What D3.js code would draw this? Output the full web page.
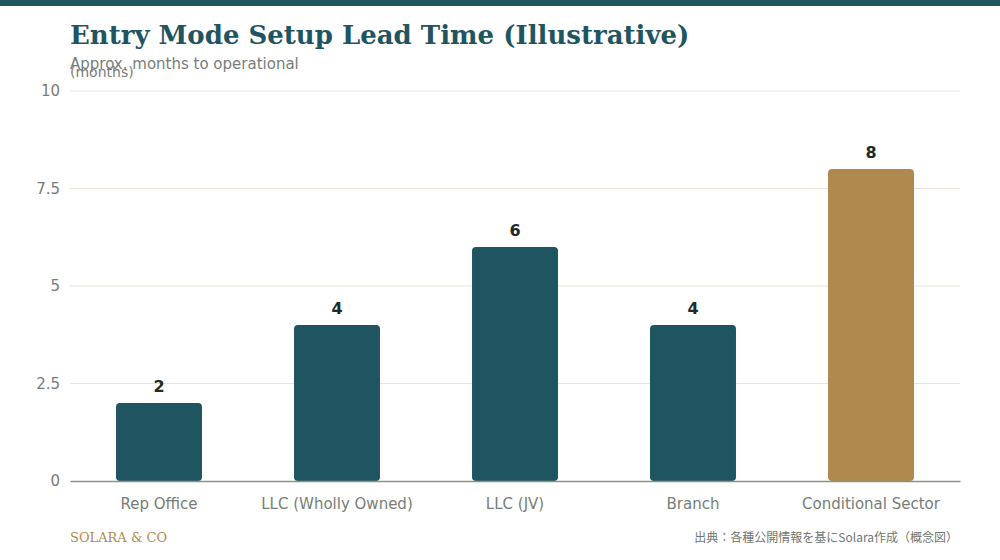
<!DOCTYPE html>
<html>
<head>
<meta charset="utf-8">
<script src="https://cdn.jsdelivr.net/npm/d3@7"></script>
<style>
  html, body { margin: 0; padding: 0; background: #fff; }
  svg { display: block; }
</style>
</head>
<body>
<div id="chart"></div>
<script>
// Chart data
const categories = ["Rep Office", "LLC (Wholly Owned)", "LLC (JV)", "Branch", "Conditional Sector"];
const months = [2, 4, 6, 4, 8];
const highlighted = ["Conditional Sector"];
const yTicks = [0, 2.5, 5, 7.5, 10];

const width = 1000, height = 560;
const margins = { top: 91, right: 40, bottom: 79, left: 70 };
const sans = "'DejaVu Sans', sans-serif";

const svg = d3.select("#chart").append("svg")
    .attr("width", width)
    .attr("height", height);

// top band
svg.append("rect")
    .attr("x", 0).attr("y", 0)
    .attr("width", width).attr("height", 6)
    .attr("fill", "#1f5461");

// Titles
svg.append("text")
    .attr("x", 70).attr("y", 44)
    .attr("font-family", "'DejaVu Serif', serif")
    .attr("font-weight", "bold")
    .attr("font-size", 26)
    .attr("fill", "#1f5461")
    .text("Entry Mode Setup Lead Time (Illustrative)");

svg.append("text")
    .attr("x", 70).attr("y", 69)
    .attr("font-family", sans)
    .attr("font-size", 15)
    .attr("fill", "#777d78")
    .text("Approx. months to operational");

// y axis title (sits just under the subtitle, as in the original)
svg.append("text")
    .attr("x", 70).attr("y", 77)
    .attr("font-family", sans)
    .attr("font-size", 14)
    .attr("fill", "#777d78")
    .text("(months)");

const x = d3.scaleBand()
    .domain(categories)
    .range([margins.left, width - margins.right])
    .paddingInner(0.517)
    .paddingOuter(0.2585);

const y = d3.scaleLinear()
    .domain([0, 10])
    .range([height - margins.bottom, margins.top]);

// Gridlines
svg.append("g")
    .selectAll("line")
    .data(yTicks.filter(d => d > 0))
    .join("line")
    .attr("x1", margins.left)
    .attr("x2", width - margins.right)
    .attr("y1", d => y(d))
    .attr("y2", d => y(d))
    .attr("stroke", "#e9e3d8")
    .attr("stroke-width", 1);

// Y axis labels
const yAxis = svg.append("g")
    .attr("transform", `translate(${margins.left},0)`)
    .call(d3.axisLeft(y).tickValues(yTicks).tickSize(0).tickPadding(10).tickFormat(d3.format("")));
yAxis.select(".domain").remove();
yAxis.selectAll("text")
    .attr("font-family", sans)
    .attr("font-size", 15)
    .attr("fill", "#777d78");

// Bars
svg.append("g")
    .selectAll("rect")
    .data(categories)
    .join("rect")
    .attr("x", d => x(d))
    .attr("width", x.bandwidth())
    .attr("y", (d, i) => y(months[i]))
    .attr("height", (d, i) => y(0) - y(months[i]))
    .attr("rx", 4)
    .attr("fill", d => highlighted.includes(d) ? "#b0894e" : "#1f5461");

// Value labels
svg.append("g")
    .selectAll("text")
    .data(categories)
    .join("text")
    .attr("x", d => x(d) + x.bandwidth() / 2)
    .attr("y", (d, i) => y(months[i]) - 11)
    .attr("text-anchor", "middle")
    .attr("font-family", sans)
    .attr("font-weight", "bold")
    .attr("font-size", 16)
    .attr("fill", "#222a27")
    .text((d, i) => months[i]);

// X axis
const xAxis = svg.append("g")
    .attr("transform", `translate(0,${y(0)})`)
    .call(d3.axisBottom(x).tickSize(0).tickPadding(17));
xAxis.select(".domain")
    .attr("stroke", "#8a9388")
    .attr("stroke-width", 1.5);
xAxis.selectAll("text")
    .attr("font-family", sans)
    .attr("font-size", 15)
    .attr("fill", "#777d78");

// Footer
svg.append("text")
    .attr("x", 70).attr("y", 542)
    .attr("font-family", "'DejaVu Serif', serif")
    .attr("font-size", 13)
    .attr("fill", "#b08a50")
    .text("SOLARA & CO");

svg.append("text")
    .attr("x", 958).attr("y", 542)
    .attr("text-anchor", "end")
    .attr("font-family", "'Noto Sans CJK JP', sans-serif")
    .attr("font-size", 12)
    .attr("fill", "#6f7571")
    .text("出典：各種公開情報を基にSolara作成（概念図）");
</script>
</body>
</html>
